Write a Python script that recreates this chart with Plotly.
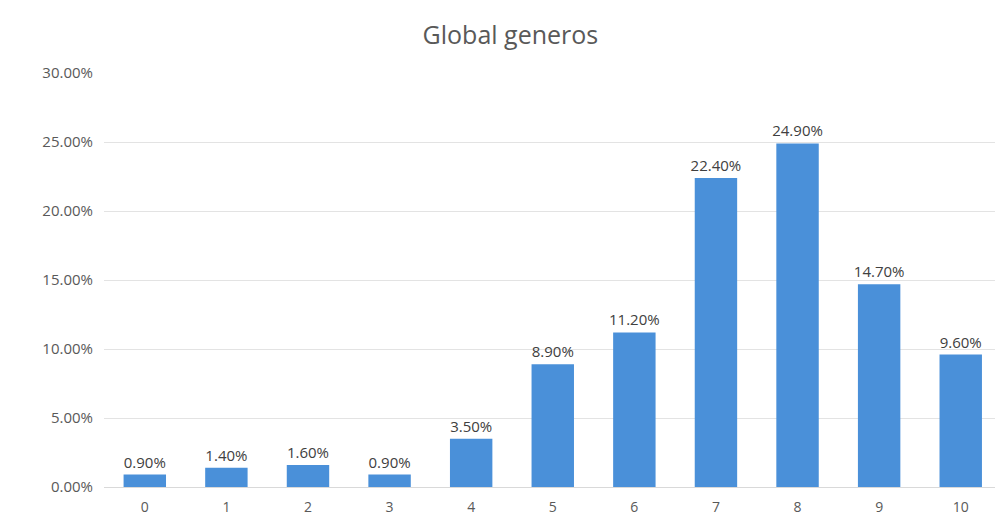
import plotly.graph_objects as go

# Distribution of global scores (percent of respondents per score)
categories = ["0", "1", "2", "3", "4", "5", "6", "7", "8", "9", "10"]
shares = [0.90, 1.40, 1.60, 0.90, 3.50, 8.90, 11.20, 22.40, 24.90, 14.70, 9.60]
y_ticks = [0, 5, 10, 15, 20, 25, 30]

labels = [f"{v:.2f}%" for v in shares]

fig = go.Figure(
    go.Bar(
        x=list(range(len(categories))),
        y=shares,
        width=0.52,
        marker=dict(color="#4a90d9", line=dict(width=0)),
        text=labels,
        textposition="outside",
        textfont=dict(family="Open Sans", size=15, color="#404040"),
        cliponaxis=False,
    )
)

fig.update_layout(
    width=995,
    height=529,
    margin=dict(l=104, r=0, t=73, b=42),
    paper_bgcolor="white",
    plot_bgcolor="white",
    showlegend=False,
    # keep every value label at full size even where it is wider than its bar
    uniformtext=dict(minsize=15, mode="show"),
    title=dict(
        text="Global generos",
        x=0.513,
        xanchor="center",
        y=0.933,
        yanchor="middle",
        font=dict(family="Open Sans", size=25, color="#595959"),
    ),
    xaxis=dict(
        range=[-0.5, 10.42],
        tickmode="array",
        tickvals=list(range(len(categories))),
        ticktext=categories,
        showgrid=False,
        zeroline=False,
        showline=True,
        linecolor="#d9d9d9",
        tickfont=dict(family="Open Sans", size=14, color="#595959"),
        ticks="",
        ticklabelstandoff=7,
    ),
    yaxis=dict(
        range=[0, 30],
        tickmode="array",
        tickvals=y_ticks,
        ticktext=[f"{t:.2f}%" for t in y_ticks],
        showgrid=True,
        gridcolor="#e3e3e3",
        zeroline=False,
        tickfont=dict(family="Open Sans", size=15, color="#595959"),
        ticks="",
        ticklabelstandoff=10,
    ),
)

fig.write_html("out.html")
